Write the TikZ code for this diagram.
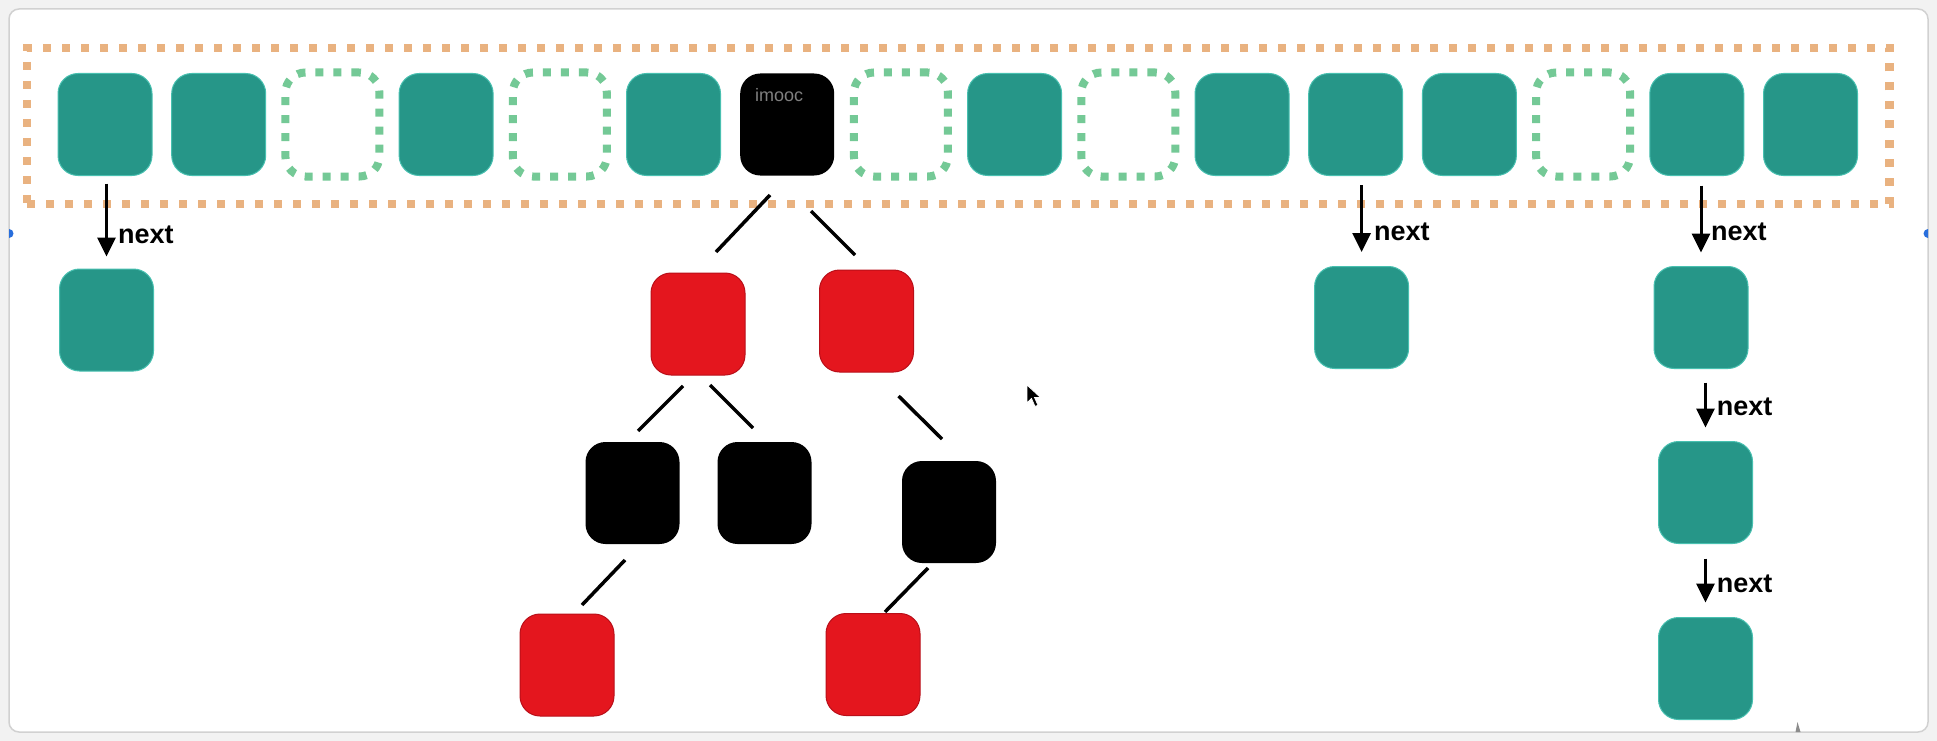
\documentclass[tikz,border=0pt]{standalone}
\usepackage{fontspec}
\setmainfont{Liberation Sans}
\usetikzlibrary{arrows.meta}
\definecolor{tealc}{RGB}{38,150,136}
\definecolor{tealedge}{RGB}{72,192,176}
\definecolor{redc}{RGB}{228,22,30}
\definecolor{rededge}{RGB}{185,15,25}
\definecolor{greend}{RGB}{116,201,150}
\definecolor{orangec}{RGB}{233,178,128}
\definecolor{dotblue}{RGB}{40,110,220}
\begin{document}
\begin{tikzpicture}[x=1pt,y=-1pt,
  cell/.style={rectangle, rounded corners=20pt, minimum width=94pt, minimum height=102pt, inner sep=0pt},
  full/.style={cell, fill=tealc, draw=tealedge, line width=1pt},
  slot/.style={cell, draw=greend, line width=8pt, dash pattern=on 8pt off 10pt, minimum height=104pt},
  rb/.style={cell, fill=redc, draw=rededge, line width=1pt},
  bb/.style={cell, fill=black},
  nextarr/.style={line width=3pt, -{Triangle[length=19pt,width=18pt]}},
  nextlbl/.style={font=\bfseries\fontsize{27}{27}\selectfont, anchor=base west, inner sep=0pt},
  treeedge/.style={line width=3.5pt},
]
\useasboundingbox (0,0) rectangle (1937,741);
\fill[black!5] (0,0) rectangle (1937,741);
\filldraw[fill=white, draw=black!18, line width=1.5pt, rounded corners=10pt] (9,9) rectangle (1928,732);

% hash table frame
\node[draw=orangec, line width=8.5pt, dash pattern=on 8pt off 11pt, minimum width=1862.5pt, minimum height=156pt, inner sep=0pt] (table) at (958.25,126) {};

% top row of buckets
\node[full] (t1) at (105,124.5) {};
\node[full] (t2) at (218.7,124.5) {};
\node[slot] (t3) at (332.4,124.5) {};
\node[full] (t4) at (446.1,124.5) {};
\node[slot] (t5) at (559.8,124.5) {};
\node[full] (t6) at (673.5,124.5) {};
\node[bb] (t7) at (787.2,124.5) {};
\node[slot] (t8) at (900.9,124.5) {};
\node[full] (t9) at (1014.6,124.5) {};
\node[slot] (t10) at (1128.3,124.5) {};
\node[full] (t11) at (1242,124.5) {};
\node[full] (t12) at (1355.7,124.5) {};
\node[full] (t13) at (1469.4,124.5) {};
\node[slot] (t14) at (1583.1,124.5) {};
\node[full] (t15) at (1696.8,124.5) {};
\node[full] (t16) at (1810.5,124.5) {};
\node[anchor=base west, inner sep=0pt, text=black!50, font=\fontsize{18}{18}\selectfont] (wm) at (755,101.7) {imooc};

% linked-list nodes
\node[full] (n1) at (106.5,320) {};
\node[full] (n12) at (1361.6,317.5) {};
\node[full] (n15) at (1701,317.5) {};
\node[full] (r2) at (1705.5,492.5) {};
\node[full] (r3) at (1705.5,668.5) {};

\draw[nextarr, shorten <=7.5pt, shorten >=12pt] (t1.south -| n1.north) -- (n1.north);
\draw[nextarr, shorten <=9pt, shorten >=14pt] (t12.south -| n12.north) -- (n12.north);
\draw[nextarr, shorten <=9.5pt, shorten >=13.5pt] (t15.south -| n15.north) -- (n15.north);
\draw[nextarr, shorten <=13.5pt, shorten >=13.5pt] (n15.south -| r2.north) -- (r2.north);
\draw[nextarr, shorten <=14.5pt, shorten >=14.5pt] (r2.south) -- (r3.north);

\node[nextlbl] (l1) at (118,243) {next};
\node[nextlbl] (l12) at (1374,240) {next};
\node[nextlbl] (l15) at (1711,240) {next};
\node[nextlbl] (l2) at (1716.7,415) {next};
\node[nextlbl] (l3) at (1716.7,592) {next};

% red-black tree
\node[rb] (L1) at (698,324) {};
\node[rb] (R1) at (866.5,321) {};
\node[bb] (LL) at (632.5,493) {};
\node[bb] (LR) at (764.5,493) {};
\node[bb] (RR) at (949,512) {};
\node[rb] (LLL) at (567,665) {};
\node[rb] (RRL) at (873,664.5) {};

\coordinate (e1a) at (770,195);   \coordinate (e1b) at (716,252);
\coordinate (e2a) at (811,211);   \coordinate (e2b) at (855,255);
\coordinate (e3a) at (683,386);   \coordinate (e3b) at (638,431);
\coordinate (e4a) at (710,385);   \coordinate (e4b) at (753,428);
\coordinate (e5a) at (898.5,396); \coordinate (e5b) at (942,439);
\coordinate (e6a) at (625,560);   \coordinate (e6b) at (582,605);
\coordinate (e7a) at (928,568);   \coordinate (e7b) at (885,612);
\draw[treeedge] (e1a) -- (e1b);
\draw[treeedge] (e2a) -- (e2b);
\draw[treeedge] (e3a) -- (e3b);
\draw[treeedge] (e4a) -- (e4b);
\draw[treeedge] (e5a) -- (e5b);
\draw[treeedge] (e6a) -- (e6b);
\draw[treeedge] (e7a) -- (e7b);

% screen artefacts: cursor, handles
\filldraw[fill=black, draw=white, line width=0.8pt] (1027,385) -- ++(0,18) -- ++(4.5,-4.5) -- ++(3.5,8) -- ++(3,-1.3) -- ++(-3.5,-7.7) -- ++(6,0) -- cycle;
\fill[black!45] (1795.5,732) -- (1797.5,722) -- (1800.5,732) -- cycle;
\begin{scope}
\clip (9,220) rectangle (20,250);
\fill[dotblue] (9,233.5) circle (4.5);
\end{scope}
\begin{scope}
\clip (1915,220) rectangle (1928,250);
\fill[dotblue] (1928,233.5) circle (4.5);
\end{scope}
\end{tikzpicture}
\end{document}
